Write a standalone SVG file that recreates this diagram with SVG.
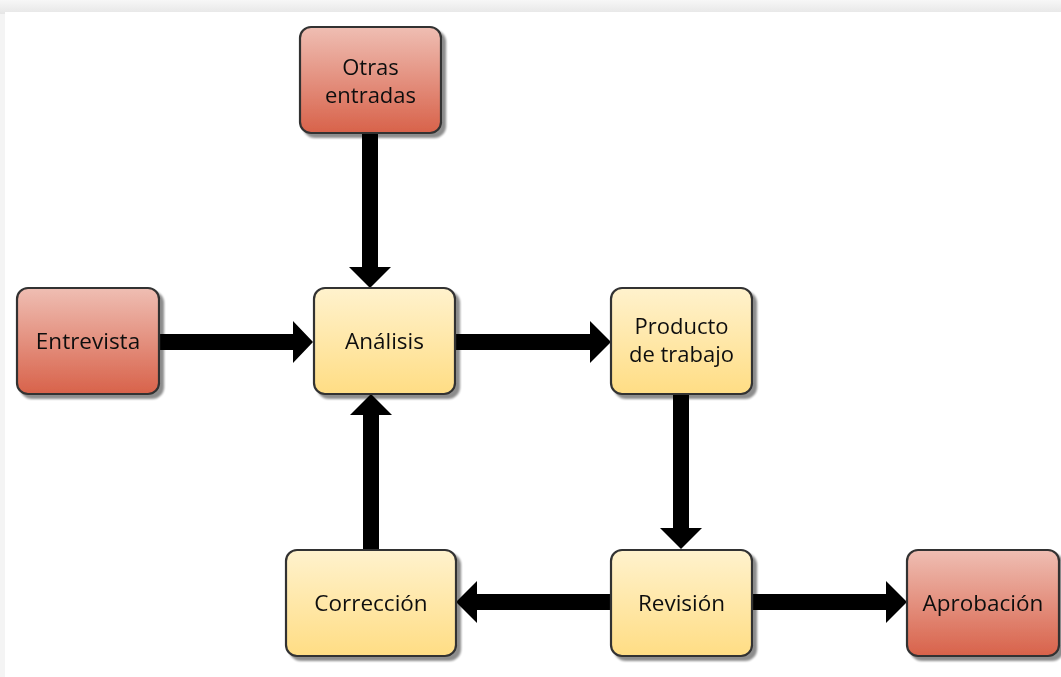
<svg xmlns="http://www.w3.org/2000/svg" width="1061" height="677" viewBox="0 0 1061 677">
  <defs>
    <linearGradient id="gRed" x1="0" y1="0" x2="0" y2="1">
      <stop offset="0" stop-color="#efbeb3"/>
      <stop offset="1" stop-color="#d8624a"/>
    </linearGradient>
    <linearGradient id="gYel" x1="0" y1="0" x2="0" y2="1">
      <stop offset="0" stop-color="#fff2cd"/>
      <stop offset="1" stop-color="#ffdd84"/>
    </linearGradient>
    <linearGradient id="gTop" x1="0" y1="0" x2="0" y2="1">
      <stop offset="0" stop-color="#f7f7f7"/>
      <stop offset="1" stop-color="#e6e6e6"/>
    </linearGradient>
    <filter id="sh" x="-10%" y="-10%" width="130%" height="130%">
      <feGaussianBlur in="SourceAlpha" stdDeviation="1.2"/>
      <feOffset dx="4" dy="4" result="b"/>
      <feComponentTransfer><feFuncA type="linear" slope="0.45"/></feComponentTransfer>
      <feMerge><feMergeNode/><feMergeNode in="SourceGraphic"/></feMerge>
    </filter>
  </defs>
  <style>
    .box { stroke: #333333; stroke-width: 2.2; }
    .red { fill: url(#gRed); }
    .yel { fill: url(#gYel); }
    .lbl { font-family: "Open Sans", "Liberation Sans", sans-serif; font-size: 22.5px; fill: #111111; text-anchor: middle; }
    .lbl2 { font-size: 22px; }
    .arr { fill: #000000; }
  </style>
  <rect x="0" y="0" width="1061" height="677" fill="#f4f4f4"/>
  <rect x="0" y="0" width="1061" height="14" fill="url(#gTop)"/>
  <rect x="5" y="12" width="1056" height="665" fill="#ffffff"/>

  <g id="connectors">
    <path class="arr" d="M362,133 L378,133 L378,267 L391,267 L370,288 L349,267 L362,267 Z"/>
    <path class="arr" d="M159,334 L293,334 L293,321 L313,342 L293,363 L293,350 L159,350 Z"/>
    <path class="arr" d="M455,334 L590,334 L590,321 L611,342 L590,363 L590,350 L455,350 Z"/>
    <path class="arr" d="M673,394 L689,394 L689,528 L702,528 L681,549 L660,528 L673,528 Z"/>
    <path class="arr" d="M363,549 L379,549 L379,415 L392,415 L371,394 L350,415 L363,415 Z"/>
    <path class="arr" d="M611,594 L477,594 L477,581 L456,602 L477,623 L477,610 L611,610 Z"/>
    <path class="arr" d="M752,594 L886,594 L886,581 L907,602 L886,623 L886,610 L752,610 Z"/>
  </g>

  <g id="otras-entradas" filter="url(#sh)">
    <rect class="box red" x="300" y="27" width="141" height="106" rx="11"/>
    <text class="lbl lbl2" x="370.5" y="75">Otras</text>
    <text class="lbl lbl2" x="370.5" y="103">entradas</text>
  </g>
  <g id="entrevista" filter="url(#sh)">
    <rect class="box red" x="17" y="288" width="142" height="106" rx="11"/>
    <text class="lbl" x="88" y="349">Entrevista</text>
  </g>
  <g id="analisis" filter="url(#sh)">
    <rect class="box yel" x="314" y="288" width="141" height="106" rx="11"/>
    <text class="lbl" x="384.5" y="349">Análisis</text>
  </g>
  <g id="producto" filter="url(#sh)">
    <rect class="box yel" x="611" y="288" width="141" height="106" rx="11"/>
    <text class="lbl lbl2" x="681.5" y="334">Producto</text>
    <text class="lbl lbl2" x="681.5" y="362">de trabajo</text>
  </g>
  <g id="correccion" filter="url(#sh)">
    <rect class="box yel" x="286" y="550" width="170" height="106" rx="11"/>
    <text class="lbl" x="371" y="611">Corrección</text>
  </g>
  <g id="revision" filter="url(#sh)">
    <rect class="box yel" x="611" y="550" width="141" height="106" rx="11"/>
    <text class="lbl" x="681.5" y="611">Revisión</text>
  </g>
  <g id="aprobacion" filter="url(#sh)">
    <rect class="box red" x="907" y="550" width="152" height="106" rx="11"/>
    <text class="lbl" x="983" y="611">Aprobación</text>
  </g>
</svg>
